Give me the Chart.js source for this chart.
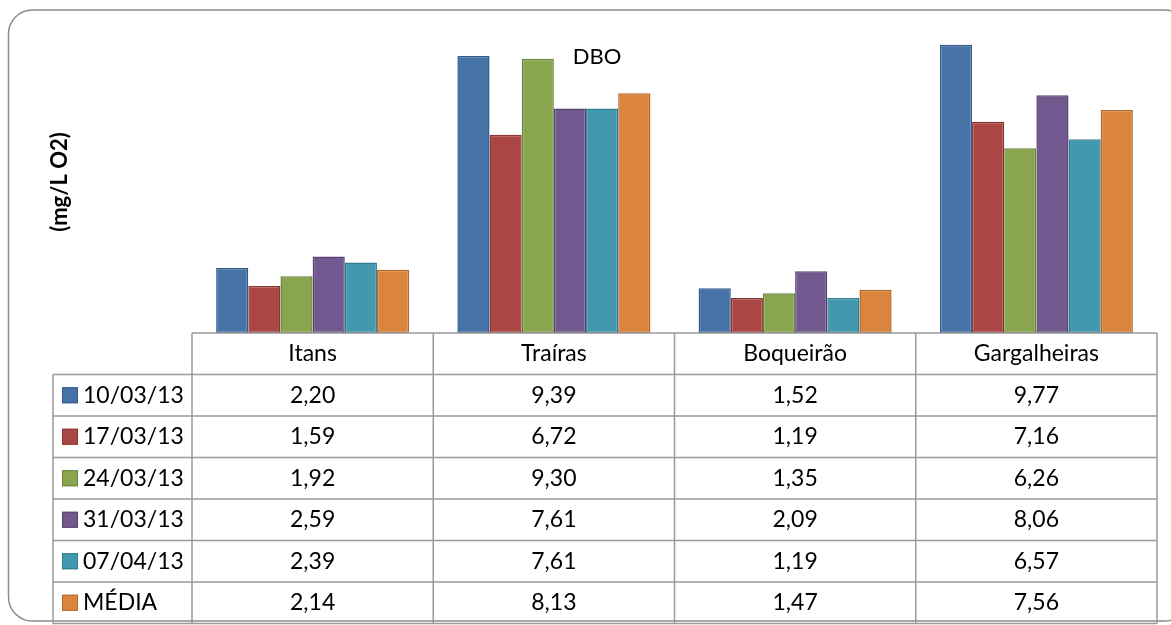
<!DOCTYPE html>
<html>
<head>
<meta charset="utf-8">
<script src="https://cdn.jsdelivr.net/npm/chart.js@4/dist/chart.umd.min.js"></script>
<style>
    html, body { margin: 0; padding: 0; background: #ffffff; }
    #wrap { position: relative; width: 1171px; height: 625px; }
</style>
</head>
<body>
<div id="wrap"><canvas id="dboChart" width="1171" height="625"></canvas></div>
<script>
const categories = ["Itans", "Traíras", "Boqueirão", "Gargalheiras"];
const seriesNames = ["10/03/13", "17/03/13", "24/03/13", "31/03/13", "07/04/13", "MÉDIA"];

const values1003 = [2.20, 9.39, 1.52, 9.77];
const values1703 = [1.59, 6.72, 1.19, 7.16];
const values2403 = [1.92, 9.30, 1.35, 6.26];
const values3103 = [2.59, 7.61, 2.09, 8.06];
const values0704 = [2.39, 7.61, 1.19, 6.57];
const valuesMedia = [2.14, 8.13, 1.47, 7.56];

const fills = ["#4572A7", "#AA4643", "#89A54E", "#71588F", "#4198AF", "#DB843D"];
const borders = ["#34598a", "#8a3431", "#6b843a", "#574370", "#2f7b8f", "#b3682b"];

const FONT = "Lato, 'Open Sans', sans-serif";
const ROW_H = 41.5;

function fmt(v) {
    return v.toFixed(2).replace(".", ",");
}

const dataTablePlugin = {
    id: "dataTable",
    afterDraw(chart) {
        const ctx = chart.ctx;
        const area = chart.chartArea;
        const xScale = chart.scales.x;
        const step = (area.right - area.left) / categories.length;
        const top = area.bottom;
        const leftCol = 53;
        const bottom = top + ROW_H * (seriesNames.length + 1);

        ctx.save();

        // outer frame
        ctx.strokeStyle = "#8c8c8c";
        ctx.lineWidth = 1.5;
        ctx.beginPath();
        ctx.roundRect(8.5, 10, 1180, 611, 24);
        ctx.stroke();

        // title
        ctx.fillStyle = "#000000";
        ctx.font = "22px " + FONT;
        ctx.textAlign = "center";
        ctx.textBaseline = "middle";
        ctx.fillText("DBO", 597, 57);

        // y axis title
        ctx.save();
        ctx.translate(60, 182);
        ctx.rotate(-Math.PI / 2);
        ctx.font = "bold 22px " + FONT;
        ctx.fillText("(mg/L O2)", 0, 0);
        ctx.restore();

        // grid
        ctx.strokeStyle = "#9a9a9a";
        ctx.lineWidth = 1.5;
        ctx.beginPath();
        ctx.moveTo(area.left, top);
        ctx.lineTo(area.right, top);
        for (let r = 1; r <= seriesNames.length + 1; r++) {
            const y = top + ROW_H * r;
            ctx.moveTo(leftCol, y);
            ctx.lineTo(area.right, y);
        }
        ctx.moveTo(leftCol, top + ROW_H);
        ctx.lineTo(leftCol, bottom);
        for (let c = 0; c <= categories.length; c++) {
            const x = area.left + step * c;
            ctx.moveTo(x, top);
            ctx.lineTo(x, bottom);
        }
        ctx.stroke();

        // header labels
        ctx.font = "23px " + FONT;
        ctx.fillStyle = "#000000";
        categories.forEach((cat, i) => {
            ctx.fillText(cat, xScale.getPixelForValue(i), top + ROW_H / 2);
        });

        // rows
        chart.data.datasets.forEach((ds, r) => {
            const cy = top + ROW_H * (r + 1) + ROW_H / 2;
            ctx.fillStyle = ds.backgroundColor;
            ctx.fillRect(62, cy - 8, 16, 16);
            ctx.strokeStyle = ds.borderColor;
            ctx.lineWidth = 1;
            ctx.strokeRect(62.5, cy - 7.5, 15, 15);
            ctx.fillStyle = "#000000";
            ctx.textAlign = "left";
            ctx.fillText(ds.label, 83, cy);
            ctx.textAlign = "center";
            ds.data.forEach((v, i) => {
                ctx.fillText(fmt(v), xScale.getPixelForValue(i), cy);
            });
        });

        ctx.restore();
    }
};

const allSeries = [values1003, values1703, values2403, values3103, values0704, valuesMedia];

const config = {
    type: "bar",
    data: {
        labels: categories,
        datasets: allSeries.map((vals, i) => ({
            label: seriesNames[i],
            data: vals,
            backgroundColor: fills[i],
            borderColor: borders[i],
            borderWidth: 1.5,
            borderSkipped: false,
            categoryPercentage: 0.8,
            barPercentage: 1.0
        }))
    },
    options: {
        animation: false,
        responsive: false,
        layout: {
            padding: { left: 192, right: 14, top: 38, bottom: 292 }
        },
        plugins: {
            legend: { display: false },
            title: { display: false },
            tooltip: { enabled: false }
        },
        scales: {
            x: { display: false },
            y: { display: false, min: 0, max: 10 }
        }
    },
    plugins: [dataTablePlugin]
};

new Chart(document.getElementById("dboChart").getContext("2d"), config);
</script>
</body>
</html>
